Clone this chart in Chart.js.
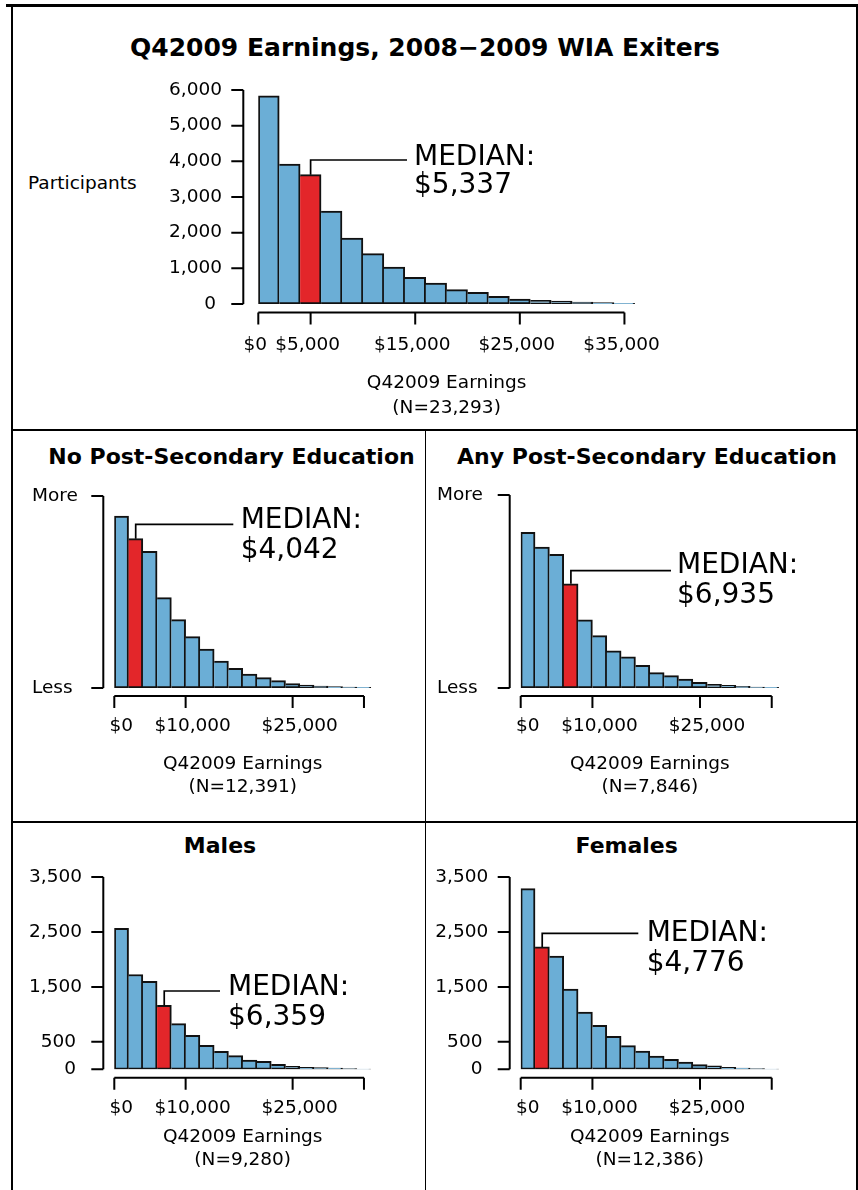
<!DOCTYPE html>
<html>
<head>
<meta charset="utf-8">
<script src="https://cdn.jsdelivr.net/npm/chart.js@4.4.1/dist/chart.umd.min.js"></script>
<style>
  body { margin: 0; background: #fff; }
  #page { position: relative; width: 858px; height: 1190px; overflow: hidden; font-family: 'DejaVu Sans', sans-serif; color: #000; }
  .rule { position: absolute; background: #000; }
  canvas { position: absolute; }
  .lbl { position: absolute; line-height: 1; white-space: nowrap; transform: translate(-50%, -50%); }
  .ttl { font-weight: bold; font-size: 22px; }
</style>
</head>
<body>
<div id="page">
  <div class="rule" style="left:6px;top:4px;width:852px;height:3px"></div>
  <div class="rule" style="left:11px;top:4px;width:2px;height:1186px"></div>
  <div class="rule" style="left:856px;top:4px;width:2px;height:1186px"></div>
  <div class="rule" style="left:12px;top:429px;width:845px;height:1.5px"></div>
  <div class="rule" style="left:424.5px;top:429px;width:1.5px;height:761px"></div>
  <div class="rule" style="left:12px;top:821px;width:845px;height:2px"></div>

  <div class="lbl" style="left:425px;top:47px;font-weight:bold;font-size:25px">Q42009 Earnings, 2008−2009 WIA Exiters</div>
  <div class="lbl" style="left:28px;top:183px;font-size:18.5px;transform:translateY(-50%)">Participants</div>
  <div class="lbl ttl" style="left:231.5px;top:457px">No Post-Secondary Education</div>
  <div class="lbl ttl" style="left:647px;top:457px">Any Post-Secondary Education</div>
  <div class="lbl ttl" style="left:220px;top:846px">Males</div>
  <div class="lbl ttl" style="left:626.7px;top:846px">Females</div>
</div>
<script>
// bin centres of the $2,000 earnings bins
const earningsBins = [1000, 3000, 5000, 7000, 9000, 11000, 13000, 15000, 17000, 19000, 21000, 23000, 25000, 27000, 29000, 31000, 33000, 35000];

// participants per bin
const allExiters       = [5840, 3925, 3626, 2607, 1850, 1411, 1037, 748, 589, 402, 327, 215, 140, 103, 84, 56, 37, 19];
const noPostSecondary  = [2688, 2333, 2135, 1411, 1068, 802, 609, 422, 307, 219, 161, 115, 68, 47, 31, 21, 16, 10];
const anyPostSecondary = [1532, 1387, 1315, 1026, 671, 516, 365, 306, 224, 151, 122, 89, 56, 36, 26, 16, 10, 7];
const males            = [2567, 1726, 1599, 1163, 830, 618, 436, 327, 248, 170, 145, 91, 55, 36, 30, 24, 12, 6];
const females          = [3288, 2228, 2059, 1459, 1041, 799, 599, 430, 333, 242, 182, 133, 85, 61, 36, 24, 12, 6];

const medianLabels = ['$5,337', '$4,042', '$6,935', '$6,359', '$4,776'];
const medianBins = [2, 1, 3, 3, 1];
const sampleSizes = ['23,293', '12,391', '7,846', '9,280', '12,386'];

// tick values
const topYTicks = [0, 1000, 2000, 3000, 4000, 5000, 6000];
const topXTicks = [0, 5000, 15000, 25000, 35000];
const smallXTicks = [0, 10000, 25000, 35000];
const genderYTicks = [0, 500, 1500, 2500, 3500];

const BLUE = '#6baed6';
const RED = '#e3262a';
const EDGE = '#111';
const BW = 2;
const FONT = "'DejaVu Sans', sans-serif";

const fmt = v => v.toLocaleString('en-US');
// small values get a trailing gap, as in the original axis
const countLabel = v => v < 1000 ? fmt(v) + ' ' : fmt(v);

const page = document.getElementById('page');

// box = canvas [left, top, w, h]; area = plot region [x0, x1, yTop, yBottom] in page px
const panels = [
  { values: allExiters, k: 0, box: [13, 7, 843, 422], area: [258.3, 634.9, 90, 304],
    yTicks: topYTicks, yMax: 6000, yLabel: countLabel, yPad: 36.3,
    xTicks: topXTicks, xLabel: v => '$' + fmt(v), xPad: 30, xShift: -3, lh: 25, titlePad: 8.5,
    yGap: 15, xGap: 8.5, lead: { y: 160, x2: 407, tx: 414, ty: [158, 186] } },
  { values: noPostSecondary, k: 1, box: [13, 431, 411, 389], area: [114.3, 371.1, 496, 688],
    yTicks: [0, 3000], yMax: 3000, yLabel: v => v === 0 ? 'Less' : 'More', yFarLeft: 32,
    xTicks: smallXTicks, xLabel: v => v === 35000 ? '' : '$' + fmt(v), xPad: 27, xShift: 7, lh: 23, titlePad: 21.5,
    yGap: 11, xGap: 8, lead: { y: 524.3, x2: 233.3, tx: 240.7, ty: [521, 551] } },
  { values: anyPostSecondary, k: 2, box: [426, 431, 430, 389], area: [520.7, 778.9, 495, 688],
    yTicks: [0, 1900], yMax: 1900, yLabel: v => v === 0 ? 'Less' : 'More', yFarLeft: 437,
    xTicks: smallXTicks, xLabel: v => v === 35000 ? '' : '$' + fmt(v), xPad: 27, xShift: 7, lh: 23, titlePad: 21.5,
    yGap: 11, xGap: 8, lead: { y: 570.7, x2: 671, tx: 677, ty: [566, 596] } },
  { values: males, k: 3, box: [13, 823, 411, 367], area: [114.3, 371.1, 877, 1069.3],
    yTicks: genderYTicks, yMax: 3500, yLabel: countLabel, yPad: 32.3,
    xTicks: smallXTicks, xLabel: v => v === 35000 ? '' : '$' + fmt(v), xPad: 27.5, xShift: 7, lh: 23, titlePad: 18.5,
    yGap: 11, xGap: 8.5, lead: { y: 991, x2: 220, tx: 228, ty: [988, 1018] } },
  { values: females, k: 4, box: [426, 823, 430, 367], area: [520.7, 778.9, 877, 1069.3],
    yTicks: genderYTicks, yMax: 3500, yLabel: countLabel, yPad: 32.4,
    xTicks: smallXTicks, xLabel: v => v === 35000 ? '' : '$' + fmt(v), xPad: 27.5, xShift: 7, lh: 23, titlePad: 18.5,
    yGap: 11, xGap: 8.5, lead: { y: 933.3, x2: 638.3, tx: 646.7, ty: [933.7, 963.3] } },
];

function build(p) {
  const [bl, bt, bw, bh] = p.box;
  const [x0, x1, y0, y1] = p.area;
  const cv = document.createElement('canvas');
  cv.width = bw;
  cv.height = bh;
  cv.style.left = bl + 'px';
  cv.style.top = bt + 'px';
  page.appendChild(cv);

  const far = p.yFarLeft !== undefined;
  const padLeft = far ? p.yFarLeft - bl : 0;
  const yW = (x0 - bl) - padLeft;
  const xH = bh - (y1 - bt);
  const tick = 12;

  // R-style detached axes plus the median call-out
  const rStyle = {
    id: 'rStyle',
    afterDraw(chart) {
      const { ctx, chartArea } = chart;
      const xs = chart.scales.x, ys = chart.scales.y;
      ctx.save();
      ctx.strokeStyle = '#000';
      ctx.lineWidth = 2;

      const yv = ys.ticks.map(t => t.value);
      const ax = chartArea.left - p.yGap;
      ctx.beginPath();
      ctx.moveTo(ax, ys.getPixelForValue(yv[0]));
      ctx.lineTo(ax, ys.getPixelForValue(yv[yv.length - 1]));
      yv.forEach(v => {
        const py = ys.getPixelForValue(v);
        ctx.moveTo(ax, py);
        ctx.lineTo(ax - tick, py);
      });

      const xv = xs.ticks.map(t => t.value);
      const ay = chartArea.bottom + p.xGap;
      ctx.moveTo(xs.getPixelForValue(xv[0]), ay);
      ctx.lineTo(xs.getPixelForValue(xv[xv.length - 1]), ay);
      xv.forEach(v => {
        const px = xs.getPixelForValue(v);
        ctx.moveTo(px, ay);
        ctx.lineTo(px, ay + tick);
      });
      ctx.stroke();

      const bar = chart.getDatasetMeta(0).data[medianBins[p.k]];
      ctx.lineWidth = 1.7;
      ctx.beginPath();
      ctx.moveTo(bar.x, bar.y);
      ctx.lineTo(bar.x, p.lead.y - bt);
      ctx.lineTo(p.lead.x2 - bl, p.lead.y - bt);
      ctx.stroke();

      ctx.fillStyle = '#000';
      ctx.font = '28px ' + FONT;
      ctx.textAlign = 'left';
      ctx.textBaseline = 'middle';
      ctx.fillText('MEDIAN:', p.lead.tx - bl, p.lead.ty[0] - bt);
      ctx.fillText(medianLabels[p.k], p.lead.tx - bl, p.lead.ty[1] - bt);
      ctx.restore();
    }
  };

  new Chart(cv, {
    type: 'bar',
    data: {
      datasets: [{
        data: earningsBins.map((b, i) => ({ x: b, y: p.values[i] })),
        backgroundColor: c => c.dataIndex === medianBins[p.k] ? RED : BLUE,
        borderColor: EDGE,
        borderWidth: c => ({ top: BW, right: BW, bottom: BW, left: c.dataIndex === 0 ? BW : 0 }),
        borderSkipped: false,
        barPercentage: 1,
        categoryPercentage: 1,
      }]
    },
    options: {
      responsive: false,
      animation: false,
      devicePixelRatio: 1,
      layout: { padding: { left: padLeft, right: bl + bw - x1, top: y0 - bt, bottom: 0 } },
      plugins: { legend: { display: false }, tooltip: { enabled: false } },
      scales: {
        x: {
          type: 'linear', min: 0, max: 36000, offset: false,
          grid: { display: false, drawTicks: false },
          border: { display: false },
          afterBuildTicks: s => { s.ticks = p.xTicks.map(v => ({ value: v })); },
          afterFit: s => { s.height = xH; s.paddingLeft = 0; s.paddingRight = 0; },
          ticks: {
            autoSkip: false, maxRotation: 0, padding: p.xPad, labelOffset: p.xShift,
            color: '#000', font: { family: FONT, size: 18.5 },
            callback: v => p.xLabel(v)
          },
          title: {
            display: true, text: ['Q42009 Earnings', '(N=' + sampleSizes[p.k] + ')'],
            color: '#000', font: { family: FONT, size: 18.5, lineHeight: p.lh + 'px' },
            padding: { top: 0, bottom: p.titlePad }
          }
        },
        y: {
          min: 0, max: p.yMax,
          grid: { display: false, drawTicks: false },
          border: { display: false },
          afterBuildTicks: s => { s.ticks = p.yTicks.map(v => ({ value: v })); },
          afterFit: s => { s.width = yW; s.paddingTop = 0; s.paddingBottom = 0; },
          ticks: {
            autoSkip: false, padding: far ? 0 : p.yPad, crossAlign: far ? 'far' : 'near',
            color: '#000', font: { family: FONT, size: 18.5 },
            callback: v => p.yLabel(v)
          }
        }
      }
    },
    plugins: [rStyle]
  });
}

panels.forEach(build);
</script>
</body>
</html>
